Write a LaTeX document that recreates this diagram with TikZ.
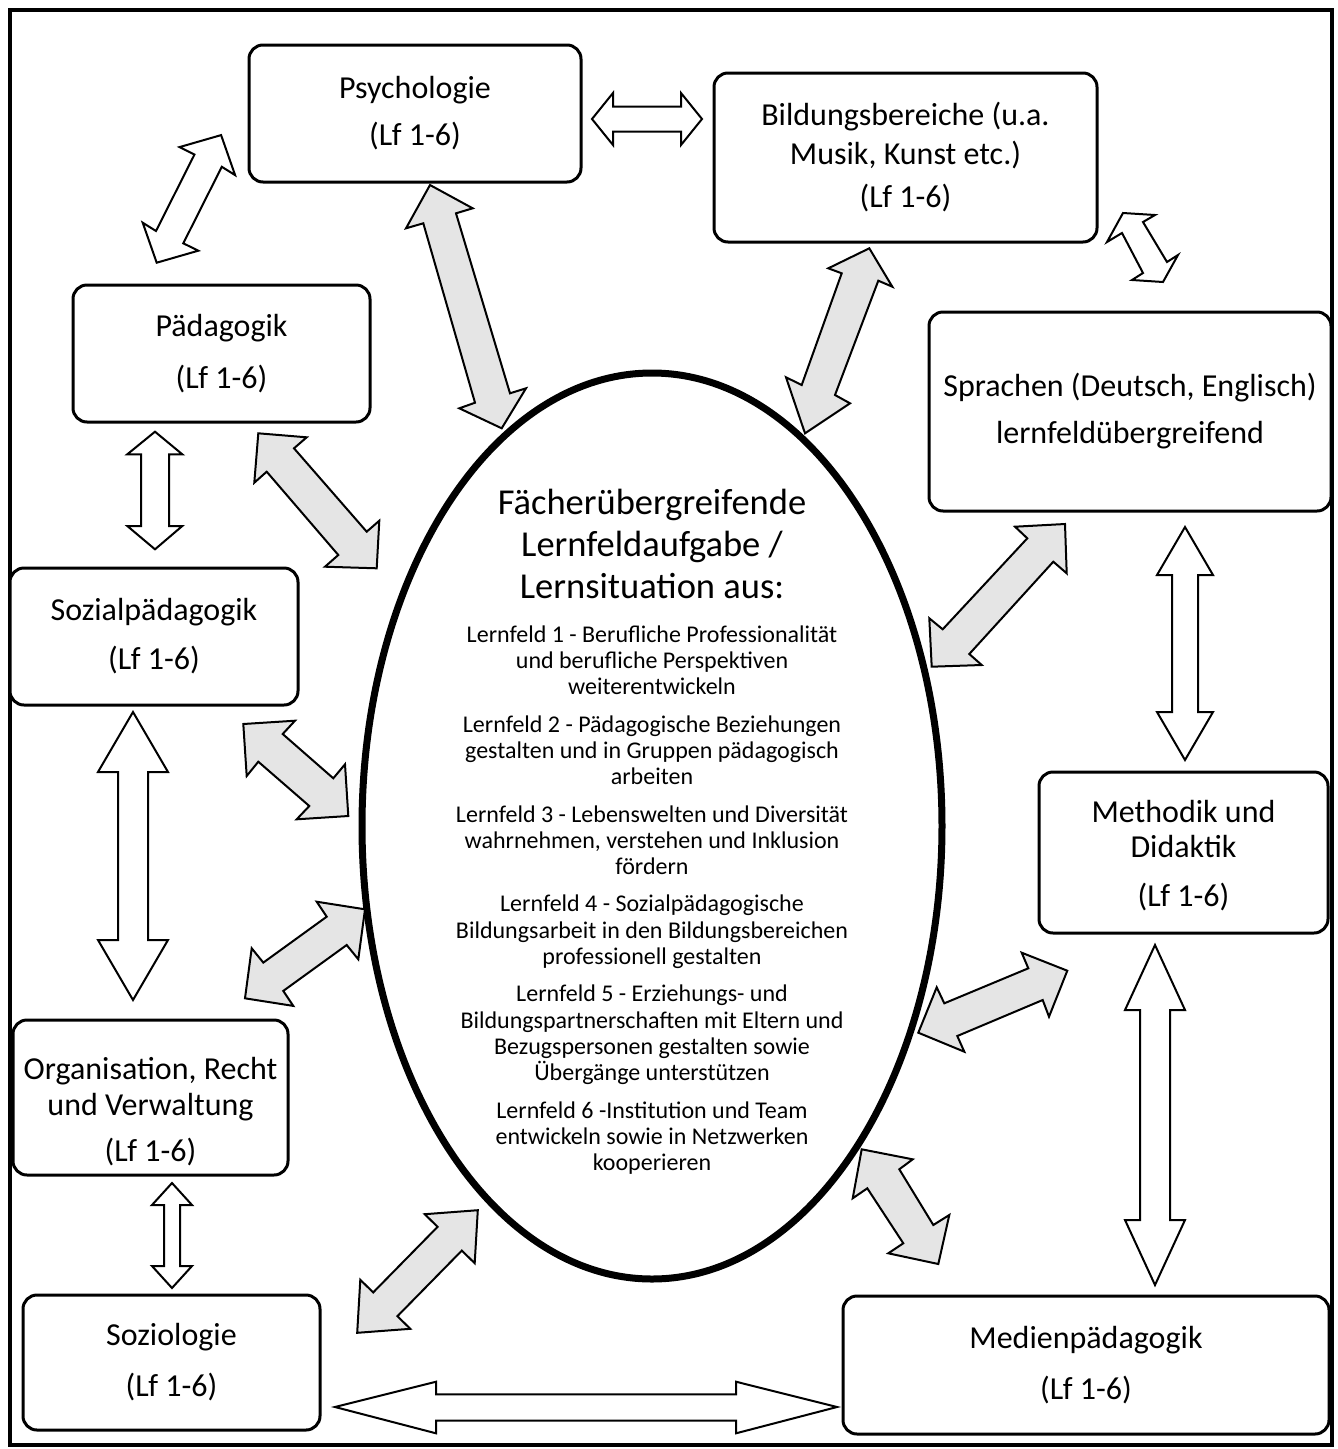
\documentclass[tikz,border=0pt]{standalone}
\usepackage{fontspec}
\setmainfont{Carlito}
\usetikzlibrary{shapes.geometric}
\begin{document}
\begin{tikzpicture}[x=1pt,y=-1pt,
  box/.style={draw,line width=3pt,rounded corners=14pt,fill=white,inner sep=0pt,align=center,font=\fontsize{32}{38}\selectfont},
  boxtext/.style={inner sep=0pt,align=center,font=\fontsize{32}{38}\selectfont},
  warrow/.style={draw,line width=2pt,fill=white,line join=miter},
  garrow/.style={draw,line width=2pt,fill=black!10,line join=miter}]
\path[use as bounding box] (0,0) rectangle (1338,1449);
\fill[white] (0,0) rectangle (1338,1449);
\draw[line width=4pt] (9.5,9.5) rectangle (1332,1445);

% central ellipse
\node[ellipse,draw,line width=7pt,minimum width=580pt,minimum height=906pt,inner sep=0pt] (ell) at (652,826) {};
\node[inner sep=0pt,align=center,font=\fontsize{36.5}{42}\selectfont] (title) at (652,544) {Fächerübergreifende\\Lernfeldaufgabe /\\Lernsituation aus:};
\node[inner sep=0pt,align=center,font=\fontsize{24}{26.3}\selectfont] (body) at (652,900) {Lernfeld 1 - Berufliche Professionalität\\und berufliche Perspektiven\\weiterentwickeln\\[11pt]
Lernfeld 2 - Pädagogische Beziehungen\\gestalten und in Gruppen pädagogisch\\arbeiten\\[11pt]
Lernfeld 3 - Lebenswelten und Diversität\\wahrnehmen, verstehen und Inklusion\\fördern\\[11pt]
Lernfeld 4 - Sozialpädagogische\\Bildungsarbeit in den Bildungsbereichen\\professionell gestalten\\[11pt]
Lernfeld 5 - Erziehungs- und\\Bildungspartnerschaften mit Eltern und\\Bezugspersonen gestalten sowie\\Übergänge unterstützen\\[11pt]
Lernfeld 6 -Institution und Team\\entwickeln sowie in Netzwerken\\kooperieren};

% boxes
\node[box,minimum width=332pt,minimum height=137pt] (psy) at (415,113.5) {Psychologie\\[9pt](Lf 1-6)};
\node[box,minimum width=383pt,minimum height=169pt] (bil) at (905.5,157.5) {Bildungsbereiche (u.a.\\[1pt]Musik, Kunst etc.)\\[5pt](Lf 1-6)};
\node[box,minimum width=297pt,minimum height=137pt] (paed) at (221.5,353.5) {Pädagogik\\[14pt](Lf 1-6)};
\node[box,minimum width=402pt,minimum height=199pt] (spr) at (1130,411.5) {Sprachen (Deutsch, Englisch)\\[9pt]lernfeldübergreifend};
\node[box,minimum width=288pt,minimum height=137pt] (soz) at (154,636.5) {Sozialpädagogik\\[11pt](Lf 1-6)};
\node[box,minimum width=289pt,minimum height=161pt] (met) at (1183.5,852.5) {};
\node[boxtext,font=\fontsize{32}{35}\selectfont] (mett) at (1183.5,855.5) {Methodik und\\Didaktik\\[14pt](Lf 1-6)};
\node[box,minimum width=275pt,minimum height=155pt] (org) at (150.5,1097.5) {};
\node[boxtext,font=\fontsize{32}{36}\selectfont] (orgt) at (150.5,1112) {Organisation, Recht\\und Verwaltung\\[10pt](Lf 1-6)};
\node[box,minimum width=297pt,minimum height=135pt] (sozio) at (171.5,1362.5) {Soziologie\\[13pt](Lf 1-6)};
\node[box,minimum width=486pt,minimum height=138pt] (med) at (1086,1365) {Medienpädagogik\\[13pt](Lf 1-6)};

% white arrows between boxes
\draw[warrow] (592,119) -- (613,93) -- (613,106.5) -- (681,106.5) -- (681,93) -- (702,119) -- (681,145) -- (681,131.5) -- (613,131.5) -- (613,145) -- cycle;
\draw[warrow] (156.7,262.7) -- (198.3,250.7) -- (183.3,243.3) -- (221.8,166.8) -- (235.1,175.1) -- (221.1,135.1) -- (179.5,147.1) -- (194.5,154.5) -- (156,231) -- (142.7,222.7) -- cycle;
\draw[warrow] (1123,213) -- (1155,215) -- (1143,222) -- (1167,262) -- (1178,255) -- (1163,282) -- (1132,280) -- (1143,273) -- (1122,233) -- (1107,242) -- cycle;
\draw[warrow] (155,431.7) -- (182.3,454.3) -- (169,454.3) -- (169,526) -- (182.3,526) -- (155,549.3) -- (127.3,526) -- (141,526) -- (141,454.3) -- (127.3,454.3) -- cycle;
\draw[warrow] (1185,527) -- (1213,575) -- (1198,575) -- (1198,712) -- (1213,712) -- (1185,760) -- (1157,712) -- (1172,712) -- (1172,575) -- (1157,575) -- cycle;
\draw[warrow] (133,712) -- (168,772) -- (148,772) -- (148,940) -- (168,940) -- (133,1000) -- (98,940) -- (118,940) -- (118,772) -- (98,772) -- cycle;
\draw[warrow] (1155,945) -- (1185,1010) -- (1170,1010) -- (1170,1220) -- (1185,1220) -- (1155,1285) -- (1125,1220) -- (1140,1220) -- (1140,1010) -- (1125,1010) -- cycle;
\draw[warrow] (172,1183) -- (192,1205) -- (180,1205) -- (180,1266) -- (192,1266) -- (172,1288) -- (152,1266) -- (164,1266) -- (164,1205) -- (152,1205) -- cycle;
\draw[warrow] (335,1407) -- (436,1381.7) -- (436,1394.3) -- (736,1394.3) -- (736,1381.7) -- (837,1407) -- (736,1433.3) -- (736,1420.7) -- (436,1420.7) -- (436,1433.3) -- cycle;

% grey arrows to the ellipse
\draw[garrow] (430,185) -- (472.7,208.3) -- (456,213.3) -- (510,393.3) -- (526,388.3) -- (501.7,428.3) -- (459.3,408.3) -- (475,402.7) -- (423.3,223.3) -- (406,228.3) -- cycle;
\draw[garrow] (869.3,248.3) -- (892.3,286.7) -- (878.3,280.7) -- (835,395) -- (850,403.3) -- (805,433.3) -- (786,377.3) -- (801.7,385) -- (841.7,273.3) -- (828.3,268.3) -- cycle;
\draw[garrow] (258.3,433.3) -- (306.7,437.3) -- (294,448.3) -- (366.7,531.7) -- (379.3,520.7) -- (376.7,568.3) -- (325,566.7) -- (338.3,555) -- (266.7,471.7) -- (254.3,482.7) -- cycle;
\draw[garrow] (1065,524) -- (1066.7,573.3) -- (1053.3,561.7) -- (969.3,654) -- (981.7,665) -- (931.7,666.7) -- (929.3,618.3) -- (942.7,629.3) -- (1027.3,538.3) -- (1015,526.7) -- cycle;
\draw[garrow] (243.3,724) -- (295,720.7) -- (282.7,734) -- (333.3,778.3) -- (345,764.3) -- (348.3,816) -- (296.7,819.3) -- (309.3,806) -- (258.3,761.7) -- (246.7,776) -- cycle;
\draw[garrow] (365,909.3) -- (358.3,959.3) -- (346.7,945) -- (283.3,990.9) -- (293.3,1005.9) -- (245,998.3) -- (251.7,948.3) -- (263.3,962.6) -- (326.7,916.7) -- (316.7,901.7) -- cycle;
\draw[garrow] (1067.3,970.7) -- (1049,1016.7) -- (1042.7,1000) -- (957.3,1036) -- (964.3,1051.7) -- (918.3,1032.7) -- (936.7,987.3) -- (944.3,1003.3) -- (1028.3,968.3) -- (1021.7,952.7) -- cycle;
\draw[garrow] (861.7,1149.3) -- (912.7,1159.3) -- (899.3,1169.3) -- (933.3,1225) -- (949.3,1215) -- (938.3,1264) -- (888.3,1253.3) -- (903.3,1243.3) -- (867.3,1188.3) -- (852.7,1198.3) -- cycle;
\draw[garrow] (477.8,1210.2) -- (424.7,1214.2) -- (437.6,1226.8) -- (373.2,1292.4) -- (360.3,1279.8) -- (357.2,1332.8) -- (410.3,1328.8) -- (397.4,1316.2) -- (461.8,1250.6) -- (474.7,1263.2) -- cycle;
\end{tikzpicture}
\end{document}
